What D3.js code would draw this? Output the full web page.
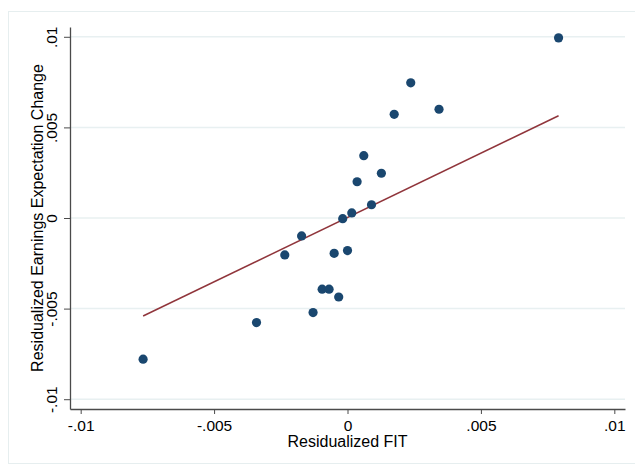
<!DOCTYPE html>
<html>
<head>
<meta charset="utf-8">
<script src="https://cdn.jsdelivr.net/npm/d3@7"></script>
<style>
  html, body { margin: 0; padding: 0; background: #fff; }
  svg { display: block; font-family: "Liberation Sans", Arial, Helvetica, sans-serif; }
</style>
</head>
<body>
<svg id="chart" width="635" height="465"></svg>
<script>
// Binned scatter: residualized FIT vs residualized earnings expectation change
const binFit = [0.00791, 0.00237, 0.00343, 0.00175, 0.00061, 0.00036, 0.00127, 0.00090, 0.00016, -0.00018,
                -0.00172, 0.00000, -0.00050, -0.00235, -0.00341, -0.00766, -0.00129, -0.00095, -0.00069, -0.00033];
const binChange = [0.00994, 0.00746, 0.00600, 0.00572, 0.00344, 0.00200, 0.00247, 0.00073, 0.00028, -0.00004,
                   -0.00099, -0.00180, -0.00195, -0.00204, -0.00577, -0.00779, -0.00522, -0.00393, -0.00393, -0.00436];

// Linear fit drawn across the range of the bins
const fitX = [-0.00766, 0.00791];
const fitY = [-0.00541, 0.00564];

const xTicks = [-0.01, -0.005, 0, 0.005, 0.01];
const xTickLabels = ["-.01", "-.005", "0", ".005", ".01"];
const yTicks = [-0.01, -0.005, 0, 0.005, 0.01];
const yTickLabels = ["-.01", "-.005", "0", ".005", ".01"];

const xTitle = "Residualized FIT";
const yTitle = "Residualized Earnings Expectation Change";

const svg = d3.select("#chart");
const plot = { left: 70, right: 625, top: 27, bottom: 409 };

const x = d3.scaleLinear().domain([-0.0104, 0.0104]).range([plot.left, plot.right]);
const y = d3.scaleLinear().domain([-0.01054, 0.01054]).range([plot.bottom, plot.top]);

// outer graph region frame
svg.append("rect")
  .attr("x", 8.5).attr("y", 11.5)
  .attr("width", 640).attr("height", 452)
  .attr("fill", "none").attr("stroke", "#e6eeef").attr("stroke-width", 1);

// horizontal gridlines
svg.append("g").selectAll("line").data(yTicks).join("line")
  .attr("x1", plot.left).attr("x2", plot.right)
  .attr("y1", d => y(d)).attr("y2", d => y(d))
  .attr("stroke", "#e8f0f1").attr("stroke-width", 1.5);

// x axis
const xAxis = svg.append("g")
  .attr("transform", `translate(0,${plot.bottom})`)
  .call(d3.axisBottom(x).tickValues(xTicks)
    .tickFormat((d, i) => xTickLabels[i]).tickSize(5).tickSizeOuter(0));
xAxis.select(".domain").attr("stroke", "#4a4a4a").attr("stroke-width", 1.3);
xAxis.selectAll(".tick line").attr("stroke", "#4a4a4a").attr("stroke-width", 1);
xAxis.selectAll(".tick text")
  .attr("y", 22).attr("dy", 0)
  .attr("fill", "#000").attr("font-size", 15.5)
  .attr("font-family", "Liberation Sans, Arial, sans-serif");

// y axis with rotated tick labels
const yAxis = svg.append("g")
  .attr("transform", `translate(${plot.left},0)`)
  .call(d3.axisLeft(y).tickValues(yTicks)
    .tickFormat((d, i) => yTickLabels[i]).tickSize(6).tickSizeOuter(0));
yAxis.select(".domain").attr("stroke", "#4a4a4a").attr("stroke-width", 1.3);
yAxis.selectAll(".tick line").attr("stroke", "#4a4a4a").attr("stroke-width", 1);
yAxis.selectAll(".tick text")
  .attr("transform", "rotate(-90)")
  .attr("x", 0).attr("y", -13).attr("dy", 0)
  .attr("text-anchor", "middle")
  .attr("fill", "#000").attr("font-size", 15.5)
  .attr("font-family", "Liberation Sans, Arial, sans-serif");

// axis titles
svg.append("text")
  .attr("x", (plot.left + plot.right) / 2).attr("y", 447)
  .attr("text-anchor", "middle").attr("font-size", 16).attr("fill", "#000")
  .text(xTitle);

svg.append("text")
  .attr("transform", `translate(43,${(plot.top + plot.bottom) / 2}) rotate(-90)`)
  .attr("text-anchor", "middle").attr("font-size", 16).attr("fill", "#000")
  .text(yTitle);

// fitted line
const line = d3.line().x(d => x(d[0])).y(d => y(d[1]));
svg.append("path")
  .datum(fitX.map((v, i) => [v, fitY[i]]))
  .attr("d", line)
  .attr("fill", "none").attr("stroke", "#90353b").attr("stroke-width", 1.5);

// bin markers
svg.append("g").selectAll("circle").data(binFit.map((v, i) => [v, binChange[i]])).join("circle")
  .attr("cx", d => x(d[0])).attr("cy", d => y(d[1]))
  .attr("r", 4.6)
  .attr("fill", "#1a476f");
</script>
</body>
</html>
